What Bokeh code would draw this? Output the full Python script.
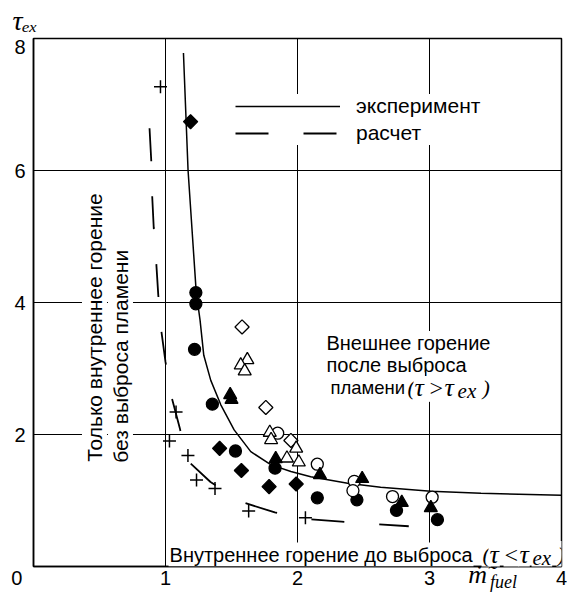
import math
from bokeh.plotting import figure
from bokeh.models import Label, Legend, LegendItem, FixedTicker, LinearAxis
from bokeh.embed import file_html
from bokeh.resources import INLINE

# ---------------- data ----------------
exp_x = [1.136, 1.171, 1.233, 1.262, 1.29, 1.343, 1.419, 1.52, 1.646, 1.80, 1.95, 2.10, 2.38, 2.63, 3.01, 3.39, 4.0]
exp_y = [7.78, 6.0, 4.15, 3.73, 3.20, 2.82, 2.45, 2.07, 1.74, 1.54, 1.44, 1.36, 1.26, 1.20, 1.14, 1.11, 1.08]

calc_x = [0.879, 0.892, 0.899, 0.911, 0.930, 0.945, 0.967, 1.0, 1.043, 1.108, 1.164, 1.341, 1.589, 1.828, 2.068, 2.333, 2.596, 2.843]
calc_y = [6.64, 6.155, 5.62, 5.13, 4.60, 4.12, 3.59, 3.10, 2.59, 2.10, 1.61, 1.28, 0.97, 0.82, 0.72, 0.68, 0.64, 0.61]

cross_x = [0.962, 1.08, 1.03, 1.17, 1.235, 1.375, 1.63, 2.06]
cross_y = [7.27, 2.34, 1.90, 1.68, 1.31, 1.18, 0.84, 0.74]

fdiam_x = [1.19, 1.41, 1.575, 1.785, 1.99]
fdiam_y = [6.74, 1.79, 1.455, 1.21, 1.25]

odiam_x = [1.58, 1.76, 1.95]
odiam_y = [3.63, 2.41, 1.91]

fcirc_x = [1.23, 1.23, 1.22, 1.355, 1.53, 1.83, 2.15, 2.45, 2.75, 3.06]
fcirc_y = [4.15, 3.98, 3.29, 2.46, 1.75, 1.49, 1.04, 1.01, 0.85, 0.71]

ocirc_x = [1.85, 2.15, 2.43, 2.42, 2.72, 3.02]
ocirc_y = [2.02, 1.55, 1.29, 1.15, 1.06, 1.05]

otri_x = [1.62, 1.57, 1.60, 1.79, 1.80, 1.99, 1.92, 2.01]
otri_y = [3.13, 3.05, 2.96, 2.03, 1.92, 1.79, 1.64, 1.58]

ftri_x = [1.49, 1.50, 1.835, 2.17, 2.49, 2.79, 3.01]
ftri_y = [2.60, 2.53, 1.63, 1.39, 1.33, 0.97, 0.89]

x_ticks = [0, 1, 2, 3, 4]
x_tick_labels = {0: "0\u00a0\u00a0\u00a0\u00a0\u00a0\u00a0"}
y_ticks = [2, 4, 6, 7.87]
y_tick_labels = {7.87: "8"}
x_grid = [1, 2, 3]
y_grid = [2, 4, 6]

SANS = "Liberation Sans"
SERIF = "Liberation Serif"

# ---------------- figure ----------------
p = figure(width=567, height=597, x_range=(0, 4), y_range=(0, 8),
           output_backend="svg", toolbar_location=None,
           min_border_left=33, min_border_right=6, min_border_top=37, min_border_bottom=31)
p.background_fill_color = "white"
p.border_fill_color = "white"
p.outline_line_color = "black"
p.outline_line_width = 1.5

# y-axis title as the plot title (top-left, above the frame)
p.title.text = "τₑₓ"
p.title.align = "left"
p.title.offset = -21
p.title.standoff = 5
p.title.text_font = SERIF
p.title.text_font_style = "italic"
p.title.text_font_size = "28px"
p.title.text_color = "black"

def style_axis(ax, font=SANS, size="20px", style="normal", standoff=0, line=True):
    ax.major_tick_in = 0
    ax.major_tick_out = 0
    ax.minor_tick_in = 0
    ax.minor_tick_out = 0
    ax.axis_line_width = 1.5
    ax.axis_line_color = "black" if line else None
    ax.major_label_text_font = font
    ax.major_label_text_font_size = size
    ax.major_label_text_font_style = style
    ax.major_label_text_color = "black"
    ax.major_label_standoff = standoff

xax = p.xaxis[0]
yax = p.yaxis[0]
xax.ticker = FixedTicker(ticks=x_ticks)
xax.major_label_overrides = x_tick_labels
yax.ticker = FixedTicker(ticks=y_ticks)
yax.major_label_overrides = y_tick_labels
style_axis(xax, standoff=0)
style_axis(yax, standoff=8)

# x-axis title pieces ("m" with dot and tilde, subscript "fuel") on label-only axes
def X(px):
    return round((px - 33) / 132, 3)

def Y(py):
    return (566 - py) / 66.125

m_pos = X(477)
fuel_pos = X(503)
ax_m = LinearAxis(ticker=FixedTicker(ticks=[m_pos]), major_label_overrides={m_pos: "\u1e41\u0303"})
style_axis(ax_m, font=SERIF, size="26px", style="italic", standoff=-32, line=False)
ax_f = LinearAxis(ticker=FixedTicker(ticks=[fuel_pos]), major_label_overrides={fuel_pos: "fuel"})
style_axis(ax_f, font=SERIF, size="18px", style="italic", standoff=-20, line=False)
p.add_layout(ax_m, "below")
p.add_layout(ax_f, "below")

p.xgrid.ticker = FixedTicker(ticks=x_grid)
p.ygrid.ticker = FixedTicker(ticks=y_grid)
for g in (p.xgrid, p.ygrid):
    g.grid_line_color = "black"
    g.grid_line_width = 1
    g.grid_line_alpha = 1

# ---------------- curves ----------------
r_exp = p.line(exp_x, exp_y, line_color="black", line_width=1.5)
r_calc = p.line(calc_x, calc_y, line_color="black", line_width=1.8, line_dash="33 35")

# ---------------- markers ----------------
def scat(xs, ys, marker, size, fill, angle=0.0, lw=1.3):
    p.scatter(xs, ys, marker=marker, size=size, angle=angle,
              fill_color=fill, line_color="black", line_width=lw)

scat(cross_x, cross_y, "cross", 13, None, lw=1.5)
scat(fdiam_x, fdiam_y, "square", 10, "black", angle=math.pi / 4)
scat(odiam_x, odiam_y, "square", 10, "white", angle=math.pi / 4)
scat(fcirc_x, fcirc_y, "circle", 12, "black")
scat(ocirc_x, ocirc_y, "circle", 12, "white")
scat(otri_x, otri_y, "triangle", 13, "white")
scat(ftri_x, ftri_y, "triangle", 13, "black")

# ---------------- legend ----------------
legend = Legend(items=[LegendItem(label="эксперимент", renderers=[r_exp]),
                       LegendItem(label="расчет", renderers=[r_calc])],
                location=(202, 421), glyph_width=105, glyph_height=20,
                label_standoff=16, spacing=3, padding=6, margin=0,
                background_fill_color="white", background_fill_alpha=1,
                border_line_color=None, label_text_font=SANS,
                label_text_font_size="21px", label_text_color="black")
p.add_layout(legend)

# ---------------- texts inside the frame ----------------
def txt(text, px, py, size, font=SANS, style="normal", align="left", angle=0, bg=True):
    p.add_layout(Label(x=X(px), y=Y(py), text=text, text_font=font,
                       text_font_size=f"{size}px", text_font_style=style,
                       text_align=align, text_baseline="alphabetic",
                       angle=angle, angle_units="deg", text_color="black",
                       background_fill_color="white" if bg else None, padding=1))

def math_group(px, py, rel):
    txt("(", px, py, 22, SERIF, "italic")
    txt("τ", px + 7, py, 26, SERIF, "italic")
    txt(rel, px + 22, py, 24, SERIF, "normal")
    txt("τ", px + 37, py, 26, SERIF, "italic")
    txt("ex", px + 50, py + 3, 21, SERIF, "italic")
    txt(")", px + 75, py, 22, SERIF, "italic")

txt("Только внутреннее горение", 94, 462, 21, angle=90)
txt("без выброса пламени", 120, 463, 21, angle=90)

txt("Внешнее горение", 325, 342, 20)
txt("после выброса", 325, 364.5, 20)
txt("пламени", 329, 387, 18.5)
math_group(406, 387, ">")

txt("Внутреннее горение до выброса", 168, 554, 20)
math_group(481, 554, "<")

open("out.html", "w").write(file_html(p, INLINE))
